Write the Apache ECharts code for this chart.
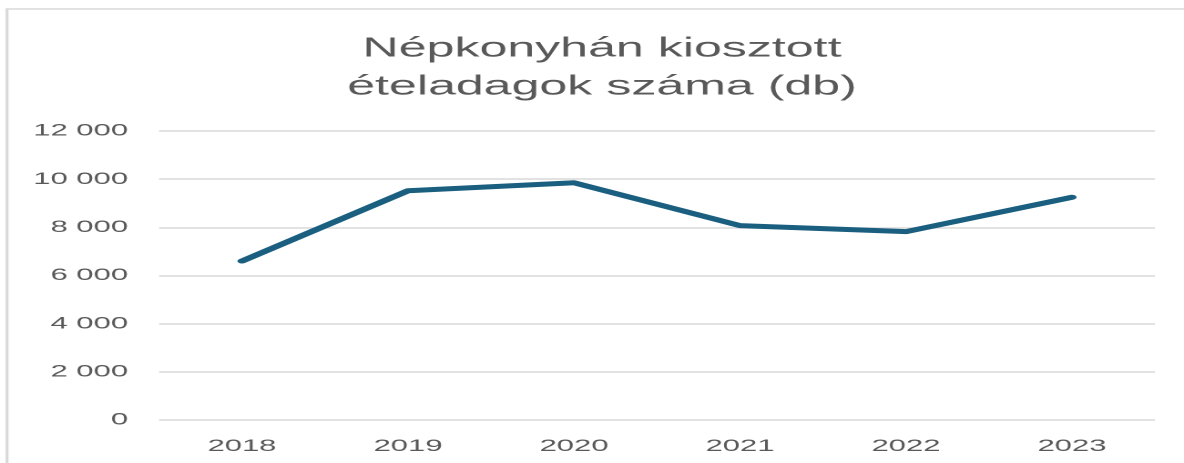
<!DOCTYPE html>
<html>
<head>
<meta charset="utf-8">
<script src="https://cdn.jsdelivr.net/npm/echarts@6/dist/echarts.min.js"></script>
<style>
html, body { margin: 0; padding: 0; background: #ffffff; overflow: hidden; }
#wrap { width: 1184px; height: 463px; overflow: hidden; position: relative; }
#chart { width: 650px; height: 463px; transform: scaleX(1.8215); transform-origin: 0 0; position: absolute; left: 0; top: 0; }
</style>
</head>
<body>
<div id="wrap"><div id="chart"></div></div>
<script>
const titleLines = ['Népkonyhán kiosztott', 'ételadagok száma (db)'];
const years = ['2018', '2019', '2020', '2021', '2022', '2023'];
const portions = [6600, 9520, 9850, 8070, 7820, 9250];
const yMin = 0, yMax = 12000, yStep = 2000;

const S = 1184 / 650; // horizontal stretch of the reference
const chart = echarts.init(document.getElementById('chart'), null, { renderer: 'canvas', devicePixelRatio: 2 });

function fmt(v) {
  return String(v).replace(/\B(?=(\d{3})+(?!\d))/g, ' ');
}

chart.setOption({
  animation: false,
  backgroundColor: '#ffffff',
  graphic: [{
    type: 'rect',
    shape: { x: 7 / S, y: 9, width: 2000, height: 1000 },
    style: { fill: 'none', stroke: '#d9d9d9', lineWidth: 1.6 },
    z: -1
  }],
  title: {
    text: titleLines.join('\n'),
    left: 602 / S,
    top: 30,
    padding: 0,
    textAlign: 'center',
    textStyle: {
      fontFamily: 'Liberation Sans',
      fontSize: 27.5,
      fontWeight: 'normal',
      color: '#595959',
      lineHeight: 38
    }
  },
  grid: {
    left: 159 / S,
    right: 29 / S,
    top: 131,
    bottom: 43,
    containLabel: false
  },
  xAxis: {
    type: 'category',
    data: years,
    boundaryGap: true,
    axisLine: { show: false },
    axisTick: { show: false },
    axisLabel: {
      color: '#595959',
      fontFamily: 'Liberation Sans',
      fontSize: 17,
      margin: 18
    }
  },
  yAxis: {
    type: 'value',
    min: yMin,
    max: yMax,
    interval: yStep,
    axisLine: { show: false },
    axisTick: { show: false },
    splitLine: { lineStyle: { color: '#d9d9d9', width: 1.6 } },
    axisLabel: {
      color: '#595959',
      fontFamily: 'Liberation Sans',
      fontSize: 17,
      margin: 31 / S,
      formatter: fmt
    }
  },
  series: [{
    type: 'line',
    data: portions,
    symbol: 'none',
    smooth: false,
    lineStyle: { color: '#1b5f80', width: 5, cap: 'round', join: 'round' }
  }]
});
</script>
</body>
</html>
